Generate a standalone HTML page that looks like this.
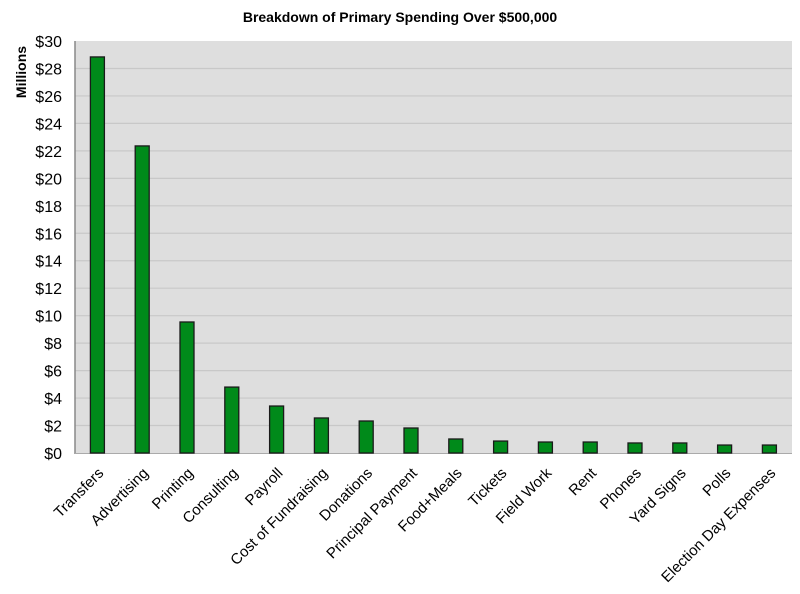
<!DOCTYPE html>
<html><head><style>body{margin:0;background:#fff}svg{display:block}</style></head><body>
<svg width="800" height="594" xmlns="http://www.w3.org/2000/svg" font-family="Liberation Sans, sans-serif">
<rect width="800" height="594" fill="#fff"/>
<text x="400" y="22" text-anchor="middle" font-size="14" font-weight="bold">Breakdown of Primary Spending Over $500,000</text>
<rect x="75" y="41" width="717" height="412" fill="#dedede"/>
<g stroke="#c8c8c8" stroke-width="1.2" id="grid"></g>
<g id="ylab" font-size="16" text-anchor="end"></g>
<line x1="75" y1="41" x2="75" y2="454" stroke="#888" stroke-width="1.5"/>
<line x1="75" y1="453.5" x2="792" y2="453.5" stroke="#aaa"/>
<text transform="translate(26,72) rotate(-90)" text-anchor="middle" font-size="14" font-weight="bold">Millions</text>
<g id="bars" fill="#008a1a" stroke="#1a1a1a" stroke-width="1.3"></g>
<g id="xlab" font-size="15" text-anchor="end"></g>
<script>
var g=document.getElementById('grid'),yl=document.getElementById('ylab'),ns='http://www.w3.org/2000/svg';
for(var v=0;v<=30;v+=2){var y=453-v*13.733;
if(v>0&&v<30){var l=document.createElementNS(ns,'line');l.setAttribute('x1',75);l.setAttribute('x2',792);l.setAttribute('y1',y);l.setAttribute('y2',y);g.appendChild(l);}
var t=document.createElementNS(ns,'text');t.setAttribute('x',62);t.setAttribute('y',y+6);t.textContent='$'+v;yl.appendChild(t);}
var d=[["Transfers",28.84],["Advertising",22.36],["Printing",9.54],["Consulting",4.8],["Payroll",3.42],["Cost of Fundraising",2.55],["Donations",2.33],["Principal Payment",1.82],["Food+Meals",1.02],["Tickets",0.87],["Field Work",0.8],["Rent",0.8],["Phones",0.73],["Yard Signs",0.73],["Polls",0.58],["Election Day Expenses",0.58]];
var b=document.getElementById('bars'),xl=document.getElementById('xlab');
d.forEach(function(e,i){var cx=97.4+i*44.8,h=e[1]*13.733;
var r=document.createElementNS(ns,'rect');r.setAttribute('x',cx-7);r.setAttribute('y',453-h);r.setAttribute('width',14);r.setAttribute('height',h);b.appendChild(r);
var t=document.createElementNS(ns,'text');t.setAttribute('transform','translate('+(cx+7)+',474) rotate(-45)');t.textContent=e[0];xl.appendChild(t);});
</script>
</svg>
</body></html>
